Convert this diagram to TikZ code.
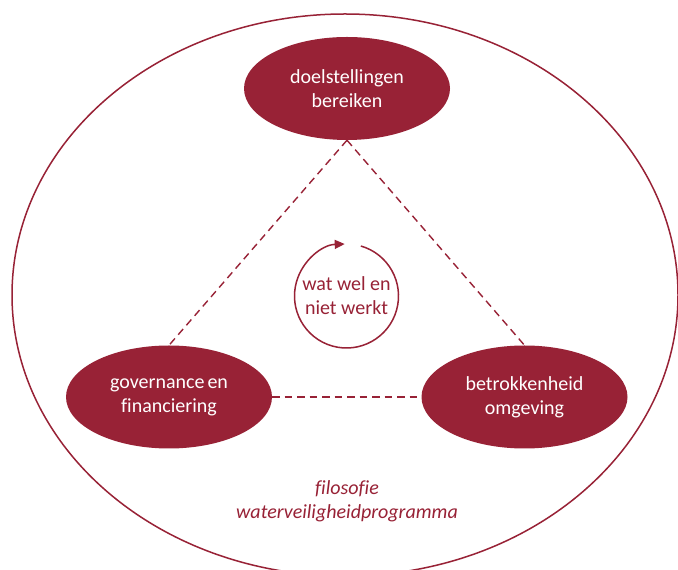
\documentclass[tikz,border=0pt]{standalone}
\usepackage{fontspec}
\setmainfont{Carlito}[Ligatures=CommonOff]
\usetikzlibrary{shapes.geometric,arrows.meta,calc}
\definecolor{wine}{RGB}{152,34,54}
\tikzset{
  blob/.style={ellipse, fill=wine, draw=none, inner sep=0pt,
    minimum width=206pt, minimum height=103pt, text=white, align=center,
    font=\fontsize{20}{24}\selectfont},
  link/.style={draw=wine, line width=1.4pt, dash pattern=on 7.5pt off 5pt},
  rim/.style={draw=wine, line width=1.5pt},
  redtext/.style={text=wine, align=center, font=\fontsize{20}{24}\selectfont}
}
\begin{document}
\begin{tikzpicture}[x=1pt,y=1pt]
\useasboundingbox (0,0) rectangle (678,570);
\fill[white] (0,0) rectangle (678,570);
\node[rim, ellipse, minimum width=666pt, minimum height=562pt, inner sep=0pt] (outer) at (345,275) {};
\node[blob] (top) at (347,481.5) {doelstellingen\\bereiken};
\node[blob] (left) at (169,173) {governance\hspace{0.15em}en\\financiering};
\node[blob] (right) at (524.5,173) {betrokkenheid\\omgeving};
\draw[link] (top.south) -- (left.north);
\draw[link] (top.south) -- (right.north);
\draw[link] (left.east) -- (right.west);
\node[redtext] (loop) at (346.5,274) {wat wel en\\niet werkt};
\coordinate (loopstart) at ($(loop.center)+(74:52)$);
\draw[rim, -{Triangle[length=10pt,width=9pt]}] (loopstart) arc[start angle=74, end angle=-268, radius=52];
\node[redtext, font=\fontsize{20}{24}\selectfont\itshape] (phil) at (347,68.5) {filosofie\\waterveiligheidprogramma};
\end{tikzpicture}
\end{document}
